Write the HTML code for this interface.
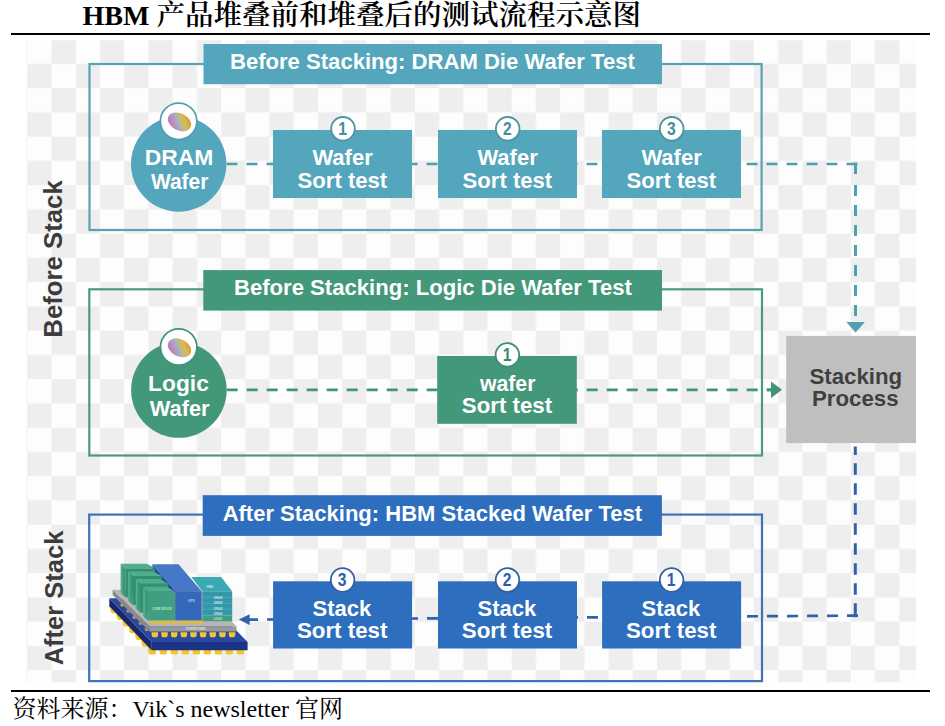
<!DOCTYPE html>
<html lang="zh">
<head>
<meta charset="utf-8">
<title>HBM 产品堆叠前和堆叠后的测试流程示意图</title>
<style>
  html, body { margin: 0; padding: 0; background: #ffffff; }
  body { width: 945px; height: 726px; position: relative; overflow: hidden; }
  .title {
    position: absolute; left: 82.5px; top: 0.2px; margin: 0;
    font-family: "Liberation Serif", "Noto Serif CJK SC", serif;
    font-weight: bold; font-size: 28px; line-height: 32px; height: 32px;
    color: #000; white-space: nowrap; letter-spacing: 0;
  }
  .title .cjk { font-size: 28.5px; font-weight: 600; }
  .rule { position: absolute; left: 11.2px; width: 919.1px; height: 2.3px; background: #000; }
  .rule.top { top: 33.2px; }
  .rule.bottom { top: 690.2px; }
  .source {
    position: absolute; left: 12.6px; top: 693.6px; margin: 0;
    font-family: "Liberation Serif", "Noto Serif CJK SC", serif;
    font-size: 24px; line-height: 30px; color: #000; white-space: nowrap;
  }
  svg.diagram { position: absolute; left: 0; top: 0; }
  svg.diagram text { font-family: "Liberation Sans", sans-serif; font-weight: bold; }
</style>
</head>
<body>
<h1 class="title">HBM <span class="cjk">产品堆叠前和堆叠后的测试流程示意图</span></h1>
<div class="rule top"></div>

<svg class="diagram" width="945" height="726" viewBox="0 0 945 726">
  <defs>
    <pattern id="checker" x="27.35" y="39.65" width="48.44" height="48.5" patternUnits="userSpaceOnUse">
      <rect x="0" y="0" width="48.44" height="48.5" fill="#fdfdfd"/>
      <rect x="24.22" y="0" width="24.22" height="24.25" fill="#eeeeee"/>
      <rect x="0" y="24.25" width="24.22" height="24.25" fill="#eeeeee"/>
    </pattern>
    <linearGradient id="wafer" gradientUnits="userSpaceOnUse" x1="-7.4" y1="8.5" x2="7.4" y2="-8.5">
      <stop offset="0" stop-color="#b878b2"/>
      <stop offset="0.2" stop-color="#c088bf"/>
      <stop offset="0.4" stop-color="#a7abcc"/>
      <stop offset="0.56" stop-color="#bcbf7e"/>
      <stop offset="0.74" stop-color="#dcb84e"/>
      <stop offset="1" stop-color="#d98f3c"/>
    </linearGradient>
  </defs>

  <!-- transparent-style checkerboard backdrop -->
  <rect x="26.4" y="40.3" width="889.6" height="642" fill="url(#checker)"/>

  <!-- ===== dashed connectors (drawn beneath the boxes) ===== -->
  <g fill="none" stroke-width="2.7">
    <!-- teal: DRAM row, then down to stacking process -->
    <line x1="857.5" y1="164" x2="226" y2="164" stroke="#4f9fad" stroke-dasharray="11 9"/>
    <line x1="855.5" y1="162.7" x2="855.5" y2="174" stroke="#4f9fb5" stroke-width="3"/>
    <line x1="855.5" y1="184.9" x2="855.5" y2="322" stroke="#4f9fb5" stroke-width="3" stroke-dasharray="11 9"/>
    <!-- green: logic row -->
    <line x1="226.7" y1="389.8" x2="771" y2="389.8" stroke="#3f957c" stroke-dasharray="11 9"/>
    <!-- blue: stacking process down and back along the bottom row -->
    <line x1="855.3" y1="446.6" x2="855.3" y2="617.2" stroke="#2f62ad" stroke-width="3" stroke-dasharray="8.3 8.3 11.5 8.5 11.5 8.5 11.5 8.5 11.5 8.5 11.5 8.5 11.5 8.5 11.5 8.5 14 0"/>
    <line x1="858" y1="615.6" x2="249" y2="619.6" stroke="#2f62ad" stroke-dasharray="11 9"/>
  </g>
  <path d="M846.4 321.9 L864.8 321.9 L855.6 332.4 Z" fill="#4f9fb5"/>
  <path d="M767 388.4 H771 V381.6 L782 389.8 L771 398 V391.2 H767 Z" fill="#3f957c"/>
  <path d="M238.8 619.6 L249.6 614.3 L249.6 624.9 Z" fill="#2f62ad"/>

  <!-- ===== section frames ===== -->
  <g fill="none" stroke-width="2.2">
    <rect x="89.5" y="64" width="672.1" height="166" stroke="#5aa1b2"/>
    <rect x="89.3" y="289.3" width="672.7" height="166.2" stroke="#4a9a80"/>
    <rect x="89.2" y="514.6" width="672.8" height="166.5" stroke="#3f72b8"/>
  </g>

  <!-- ===== section headers ===== -->
  <rect x="203.5" y="44" width="458.5" height="40.2" fill="#53a6bb"/>
  <text x="432.4" y="68.8" font-size="21.7" fill="#ffffff" text-anchor="middle" textLength="404.9" lengthAdjust="spacingAndGlyphs">Before Stacking: DRAM Die Wafer Test</text>
  <rect x="203.3" y="270.1" width="458.7" height="40.5" fill="#429879"/>
  <text x="432.9" y="295.4" font-size="21.7" fill="#ffffff" text-anchor="middle" textLength="397.9" lengthAdjust="spacingAndGlyphs">Before Stacking: Logic Die Wafer Test</text>
  <rect x="202.7" y="495.2" width="459.2" height="40.7" fill="#2e6ebe"/>
  <text x="432.35" y="521.2" font-size="21.7" fill="#ffffff" text-anchor="middle" textLength="419.4" lengthAdjust="spacingAndGlyphs">After Stacking: HBM Stacked Wafer Test</text>

  <!-- ===== vertical side labels ===== -->
  <text transform="translate(62.2 337.7) rotate(-90)" font-size="26.6" fill="#3c3c3c" textLength="157.4" lengthAdjust="spacingAndGlyphs">Before Stack</text>
  <text transform="translate(62.8 665.3) rotate(-90)" font-size="26.6" fill="#3c3c3c" textLength="134.7" lengthAdjust="spacingAndGlyphs">After Stack</text>

  <!-- ===== row 1 : DRAM wafer ===== -->
  <circle cx="178.7" cy="164" r="47.7" fill="#53a6bb"/>
  <circle cx="178.6" cy="121.3" r="18.2" fill="#ffffff" stroke="#4f9fb2" stroke-width="1.7"/>
  <ellipse cx="0" cy="0" rx="12.3" ry="8.6" transform="translate(179.5 121.9) rotate(27)" fill="url(#wafer)"/>
  <text x="179" y="165.1" font-size="21.7" fill="#ffffff" text-anchor="middle" textLength="68.6" lengthAdjust="spacingAndGlyphs">DRAM</text>
  <text x="179.7" y="189.2" font-size="21.7" fill="#ffffff" text-anchor="middle" textLength="57.5" lengthAdjust="spacingAndGlyphs">Wafer</text>

  <g>
    <rect x="273" y="130" width="139" height="68" fill="#53a6bb"/>
    <text x="342.6" y="165.2" font-size="21.7" fill="#ffffff" text-anchor="middle" textLength="60.4" lengthAdjust="spacingAndGlyphs">Wafer</text>
    <text x="342.40" y="187.8" font-size="21.7" fill="#ffffff" text-anchor="middle" textLength="89.6" lengthAdjust="spacingAndGlyphs">Sort test</text>
    <circle cx="343.0" cy="128.8" r="11.8" fill="#ffffff" stroke="#4f929f" stroke-width="1.8"/>
    <text x="342.6" y="134.9" font-size="18" fill="#438d9c" text-anchor="middle" textLength="8.7" lengthAdjust="spacingAndGlyphs">1</text>
  </g>
  <g>
    <rect x="438" y="130" width="139" height="68" fill="#53a6bb"/>
    <text x="507.6" y="165.2" font-size="21.7" fill="#ffffff" text-anchor="middle" textLength="60.4" lengthAdjust="spacingAndGlyphs">Wafer</text>
    <text x="507.40" y="187.8" font-size="21.7" fill="#ffffff" text-anchor="middle" textLength="89.6" lengthAdjust="spacingAndGlyphs">Sort test</text>
    <circle cx="507.7" cy="128.8" r="11.8" fill="#ffffff" stroke="#4f929f" stroke-width="1.8"/>
    <text x="507.3" y="134.9" font-size="18" fill="#438d9c" text-anchor="middle" textLength="8.7" lengthAdjust="spacingAndGlyphs">2</text>
  </g>
  <g>
    <rect x="602" y="130" width="139" height="68" fill="#53a6bb"/>
    <text x="671.6" y="165.2" font-size="21.7" fill="#ffffff" text-anchor="middle" textLength="60.4" lengthAdjust="spacingAndGlyphs">Wafer</text>
    <text x="671.40" y="187.8" font-size="21.7" fill="#ffffff" text-anchor="middle" textLength="89.6" lengthAdjust="spacingAndGlyphs">Sort test</text>
    <circle cx="671.7" cy="128.8" r="11.8" fill="#ffffff" stroke="#4f929f" stroke-width="1.8"/>
    <text x="671.3" y="134.9" font-size="18" fill="#438d9c" text-anchor="middle" textLength="8.7" lengthAdjust="spacingAndGlyphs">3</text>
  </g>

  <!-- ===== row 2 : Logic wafer ===== -->
  <circle cx="178.9" cy="390" r="47.8" fill="#429879"/>
  <circle cx="178.7" cy="347" r="18.2" fill="#ffffff" stroke="#3f957c" stroke-width="1.7"/>
  <ellipse cx="0" cy="0" rx="12.3" ry="8.6" transform="translate(179.5 347.8) rotate(27)" fill="url(#wafer)"/>
  <text x="178.5" y="391" font-size="21.7" fill="#ffffff" text-anchor="middle" textLength="60.8" lengthAdjust="spacingAndGlyphs">Logic</text>
  <text x="179.7" y="415.8" font-size="21.7" fill="#ffffff" text-anchor="middle" textLength="59.8" lengthAdjust="spacingAndGlyphs">Wafer</text>

  <g>
    <rect x="437.2" y="356" width="139.6" height="67.8" fill="#429879"/>
    <text x="507.7" y="391" font-size="21.7" fill="#ffffff" text-anchor="middle" textLength="55.6" lengthAdjust="spacingAndGlyphs">wafer</text>
    <text x="506.95" y="413.2" font-size="21.7" fill="#ffffff" text-anchor="middle" textLength="90.3" lengthAdjust="spacingAndGlyphs">Sort test</text>
    <circle cx="507.4" cy="354.9" r="11.8" fill="#ffffff" stroke="#3a8f76" stroke-width="1.8"/>
    <text x="507.0" y="361.0" font-size="18" fill="#368a70" text-anchor="middle" textLength="8.7" lengthAdjust="spacingAndGlyphs">1</text>
  </g>

  <!-- ===== stacking process ===== -->
  <rect x="786.2" y="335.9" width="129.8" height="107.2" fill="#bfbfbf"/>
  <text x="855.8" y="384.1" font-size="21.7" fill="#404040" text-anchor="middle" textLength="92.8" lengthAdjust="spacingAndGlyphs">Stacking</text>
  <text x="855.25" y="406.2" font-size="21.7" fill="#404040" text-anchor="middle" textLength="86.6" lengthAdjust="spacingAndGlyphs">Process</text>

  <!-- ===== row 3 : stacked HBM ===== -->
  <g>
    <rect x="273.1" y="581.3" width="139" height="67.2" fill="#2e6ebe"/>
    <text x="341.95" y="615.9" font-size="21.7" fill="#ffffff" text-anchor="middle" textLength="58.7" lengthAdjust="spacingAndGlyphs">Stack</text>
    <text x="342.15" y="638.3" font-size="21.7" fill="#ffffff" text-anchor="middle" textLength="90.5" lengthAdjust="spacingAndGlyphs">Sort test</text>
    <circle cx="342.6" cy="580.0" r="11.8" fill="#ffffff" stroke="#365fa3" stroke-width="1.8"/>
    <text x="342.2" y="586.1" font-size="18" fill="#2a5fb0" text-anchor="middle" textLength="8.7" lengthAdjust="spacingAndGlyphs">3</text>
  </g>
  <g>
    <rect x="438" y="581.3" width="139" height="67.2" fill="#2e6ebe"/>
    <text x="506.85" y="615.9" font-size="21.7" fill="#ffffff" text-anchor="middle" textLength="58.7" lengthAdjust="spacingAndGlyphs">Stack</text>
    <text x="507.05" y="638.3" font-size="21.7" fill="#ffffff" text-anchor="middle" textLength="90.5" lengthAdjust="spacingAndGlyphs">Sort test</text>
    <circle cx="507.5" cy="580.0" r="11.8" fill="#ffffff" stroke="#365fa3" stroke-width="1.8"/>
    <text x="507.1" y="586.1" font-size="18" fill="#2a5fb0" text-anchor="middle" textLength="8.7" lengthAdjust="spacingAndGlyphs">2</text>
  </g>
  <g>
    <rect x="602.1" y="581.3" width="139" height="67.2" fill="#2e6ebe"/>
    <text x="670.95" y="615.9" font-size="21.7" fill="#ffffff" text-anchor="middle" textLength="58.7" lengthAdjust="spacingAndGlyphs">Stack</text>
    <text x="671.15" y="638.3" font-size="21.7" fill="#ffffff" text-anchor="middle" textLength="90.5" lengthAdjust="spacingAndGlyphs">Sort test</text>
    <circle cx="671.6" cy="580.0" r="11.8" fill="#ffffff" stroke="#365fa3" stroke-width="1.8"/>
    <text x="671.2" y="586.1" font-size="18" fill="#2a5fb0" text-anchor="middle" textLength="8.7" lengthAdjust="spacingAndGlyphs">1</text>
  </g>
  <!-- HBM package illustration -->
  <g id="chip">
    <polygon points="109.8,605.8 114.9,605.8 116.6,611.9 115.2,613.2 111.9,613.2 110.5,610.9" fill="#f2c62c"/>
    <polygon points="116.1,612.5 121.2,612.5 122.9,618.6 121.5,619.9 118.1,619.9 116.8,617.6" fill="#f2c62c"/>
    <polygon points="122.3,619.2 127.4,619.2 129.1,625.3 127.8,626.6 124.4,626.6 123.0,624.2" fill="#f2c62c"/>
    <polygon points="128.6,625.9 133.7,625.9 135.4,632.0 134.0,633.3 130.6,633.3 129.3,630.9" fill="#f2c62c"/>
    <polygon points="134.9,632.5 140.0,632.5 141.7,638.6 140.3,640.0 136.9,640.0 135.6,637.6" fill="#f2c62c"/>
    <polygon points="141.1,639.2 146.2,639.2 147.9,645.3 146.6,646.7 143.2,646.7 141.8,644.3" fill="#f2c62c"/>
    <polygon points="147.4,645.9 152.5,645.9 154.2,652.0 152.8,653.4 149.4,653.4 148.1,651.0" fill="#f2c62c"/>
    <polygon points="148.4,649.1 156.2,649.1 155.9,653.2 154.9,654.6 149.8,654.6 148.8,653.2" fill="#f2c62c"/>
    <polygon points="159.4,649.1 167.2,649.1 166.9,653.2 165.9,654.6 160.8,654.6 159.8,653.2" fill="#f2c62c"/>
    <polygon points="170.4,649.1 178.2,649.1 177.9,653.2 176.9,654.6 171.8,654.6 170.8,653.2" fill="#f2c62c"/>
    <polygon points="181.4,649.1 189.2,649.1 188.9,653.2 187.9,654.6 182.8,654.6 181.8,653.2" fill="#f2c62c"/>
    <polygon points="192.4,649.1 200.2,649.1 199.9,653.2 198.9,654.6 193.8,654.6 192.8,653.2" fill="#f2c62c"/>
    <polygon points="203.4,649.1 211.2,649.1 210.9,653.2 209.9,654.6 204.8,654.6 203.8,653.2" fill="#f2c62c"/>
    <polygon points="214.5,649.1 222.2,649.1 221.9,653.2 220.9,654.6 215.8,654.6 214.8,653.2" fill="#f2c62c"/>
    <polygon points="225.5,649.1 233.2,649.1 232.9,653.2 231.9,654.6 226.8,654.6 225.8,653.2" fill="#f2c62c"/>
    <polygon points="236.5,649.1 244.3,649.1 243.9,653.2 242.9,654.6 237.8,654.6 236.8,653.2" fill="#f2c62c"/>
    <polygon points="109.3,598.2 151.6,642.0 151.6,650.2 109.3,606.3" fill="#18276c"/>
    <polygon points="151.6,642.0 247.6,642.0 247.6,650.2 151.6,650.2" fill="#1c3384"/>
    <polygon points="109.3,598.2 205.0,598.2 247.6,642.0 151.6,642.0" fill="#2a48a2"/>
    <polygon points="120.0,604.1 122.7,604.1 123.7,606.5 121.0,606.5" fill="#c9a93a"/>
    <polygon points="126.1,610.2 128.8,610.2 129.8,612.6 127.1,612.6" fill="#c9a93a"/>
    <polygon points="132.2,616.3 134.9,616.3 135.9,618.7 133.2,618.7" fill="#c9a93a"/>
    <polygon points="138.3,622.4 141.0,622.4 142.0,624.8 139.3,624.8" fill="#c9a93a"/>
    <polygon points="144.4,628.5 147.1,628.5 148.1,630.9 145.4,630.9" fill="#c9a93a"/>
    <polygon points="151.5,632.2 158.2,632.2 157.9,635.9 156.9,637.3 152.8,637.3 151.8,635.9" fill="#f2c62c"/>
    <polygon points="161.1,632.2 167.9,632.2 167.6,635.9 166.5,637.3 162.5,637.3 161.5,635.9" fill="#f2c62c"/>
    <polygon points="170.8,632.2 177.5,632.2 177.2,635.9 176.2,637.3 172.1,637.3 171.1,635.9" fill="#f2c62c"/>
    <polygon points="180.4,632.2 187.2,632.2 186.9,635.9 185.8,637.3 181.8,637.3 180.8,635.9" fill="#f2c62c"/>
    <polygon points="190.1,632.2 196.8,632.2 196.5,635.9 195.5,637.3 191.4,637.3 190.4,635.9" fill="#f2c62c"/>
    <polygon points="199.7,632.2 206.5,632.2 206.2,635.9 205.1,637.3 201.1,637.3 200.1,635.9" fill="#f2c62c"/>
    <polygon points="209.4,632.2 216.1,632.2 215.8,635.9 214.8,637.3 210.7,637.3 209.7,635.9" fill="#f2c62c"/>
    <polygon points="219.0,632.2 225.8,632.2 225.5,635.9 224.4,637.3 220.4,637.3 219.4,635.9" fill="#f2c62c"/>
    <polygon points="228.7,632.2 235.4,632.2 235.1,635.9 234.1,637.3 230.0,637.3 229.0,635.9" fill="#f2c62c"/>
    <polygon points="112.7,589.7 149.4,626.3 149.4,631.5 112.7,595.0" fill="#8a8a8a"/>
    <polygon points="149.4,626.3 236.5,626.3 236.5,631.5 149.4,631.5" fill="#999999"/>
    <polygon points="112.7,589.7 199.9,589.7 236.5,626.3 149.4,626.3" fill="#b6b6b6"/>
    <polygon points="150.1,621.0 153.8,621.0 153.7,624.2 150.5,624.2" fill="#e6bd2c"/>
    <polygon points="154.5,621.0 158.2,621.0 158.1,624.2 154.9,624.2" fill="#e6bd2c"/>
    <polygon points="158.9,621.0 162.6,621.0 162.5,624.2 159.3,624.2" fill="#e6bd2c"/>
    <polygon points="163.3,621.0 167.0,621.0 166.9,624.2 163.7,624.2" fill="#e6bd2c"/>
    <polygon points="167.7,621.0 171.4,621.0 171.3,624.2 168.1,624.2" fill="#e6bd2c"/>
    <polygon points="172.1,621.0 175.9,621.0 175.7,624.2 172.5,624.2" fill="#e6bd2c"/>
    <polygon points="177.5,621.0 181.3,621.0 181.1,624.2 177.9,624.2" fill="#e6bd2c"/>
    <polygon points="181.9,621.0 185.7,621.0 185.5,624.2 182.3,624.2" fill="#e6bd2c"/>
    <polygon points="186.3,621.0 190.1,621.0 189.9,624.2 186.7,624.2" fill="#e6bd2c"/>
    <polygon points="190.8,621.0 194.5,621.0 194.3,624.2 191.1,624.2" fill="#e6bd2c"/>
    <polygon points="195.2,621.0 198.9,621.0 198.7,624.2 195.5,624.2" fill="#e6bd2c"/>
    <polygon points="199.6,621.0 203.3,621.0 203.1,624.2 199.9,624.2" fill="#e6bd2c"/>
    <polygon points="152.4,564.3 175.5,591.3 175.5,620.4 152.4,593.4" fill="#1f4a94"/>
    <polygon points="152.4,564.3 178.5,564.3 201.6,591.3 175.5,591.3" fill="#4678c8"/>
    <polygon points="175.5,591.3 201.6,591.3 201.6,620.4 175.5,620.4" fill="#3568bb"/>
    <polygon points="120.8,563.7 125.2,568.3 125.2,597.3 120.8,592.7" fill="#3b987a"/>
    <polygon points="120.8,563.7 122.3,565.4 122.3,594.4 120.8,592.7" fill="#55b192"/>
    <polygon points="120.8,563.7 146.9,563.7 155.2,568.3 125.2,568.3" fill="#50ad8e"/>
    <polygon points="125.2,568.3 155.2,568.3 155.2,597.3 125.2,597.3" fill="#338f72"/>
    <polygon points="128.2,571.4 132.7,576.0 132.7,605.0 128.2,600.4" fill="#3b987a"/>
    <polygon points="128.2,571.4 129.8,573.1 129.8,602.1 128.2,600.4" fill="#55b192"/>
    <polygon points="128.2,571.4 153.5,571.4 161.8,576.0 132.7,576.0" fill="#50ad8e"/>
    <polygon points="132.7,576.0 161.8,576.0 161.8,605.0 132.7,605.0" fill="#338f72"/>
    <polygon points="135.8,579.1 140.2,583.7 140.2,612.7 135.8,608.1" fill="#3b987a"/>
    <polygon points="135.8,579.1 137.3,580.8 137.3,609.8 135.8,608.1" fill="#55b192"/>
    <polygon points="135.8,579.1 160.1,579.1 168.4,583.7 140.2,583.7" fill="#50ad8e"/>
    <polygon points="140.2,583.7 168.4,583.7 168.4,612.7 140.2,612.7" fill="#338f72"/>
    <polygon points="143.2,586.8 147.7,591.4 147.7,620.4 143.2,615.8" fill="#3b987a"/>
    <polygon points="143.2,586.8 144.8,588.5 144.8,617.5 143.2,615.8" fill="#55b192"/>
    <polygon points="143.2,586.8 166.7,586.8 175.0,591.4 147.7,591.4" fill="#50ad8e"/>
    <polygon points="147.7,591.4 175.0,591.4 175.0,620.4 147.7,620.4" fill="#3f9f80"/>
    <polygon points="191.4,577.0 221.2,577.0 232.2,591.4 202.4,591.4" fill="#3aa9b3"/>
    <polygon points="202.4,591.4 232.2,591.4 232.2,615.4 202.4,615.4" fill="#3397ab"/>
    <polygon points="202.4,615.4 232.2,615.4 232.2,621.2 202.4,621.2" fill="#3fa07f"/>
    <line x1="202.4" y1="597.3" x2="232.2" y2="597.3" stroke="#5fb9c6" stroke-width="0.5"/>
    <line x1="202.4" y1="603.3" x2="232.2" y2="603.3" stroke="#5fb9c6" stroke-width="0.5"/>
    <line x1="202.4" y1="609.2" x2="232.2" y2="609.2" stroke="#5fb9c6" stroke-width="0.5"/>
    <line x1="202.4" y1="615.1" x2="232.2" y2="615.1" stroke="#5fb9c6" stroke-width="0.5"/>
    <text x="162.1" y="610.2" font-size="2.9" fill="#ffffff" fill-opacity="0.70" text-anchor="middle">CORE DEVICE</text>
    <text x="191.4" y="601.9" font-size="3.2" fill="#ffffff" fill-opacity="0.70" text-anchor="middle">GPU</text>
    <text x="209.7" y="587.5" font-size="3.0" fill="#ffffff" fill-opacity="0.70" text-anchor="middle">HBM</text>
    <text x="218.0" y="598.5" font-size="2.9" fill="#ffffff" fill-opacity="0.70" text-anchor="middle">DRAM</text>
    <text x="218.0" y="604.1" font-size="2.9" fill="#ffffff" fill-opacity="0.70" text-anchor="middle">DRAM</text>
    <text x="218.0" y="609.7" font-size="2.9" fill="#ffffff" fill-opacity="0.70" text-anchor="middle">DRAM</text>
    <text x="218.0" y="614.9" font-size="2.9" fill="#ffffff" fill-opacity="0.70" text-anchor="middle">DRAM</text>
    <text x="218.0" y="620.4" font-size="2.9" fill="#ffffff" fill-opacity="0.70" text-anchor="middle">LOGIC</text>
    <text x="195.8" y="630.0" font-size="3.0" fill="#ffffff" fill-opacity="0.70" text-anchor="middle">INTERPOSER</text>
  </g>
</svg>

<div class="rule bottom"></div>
<p class="source">资料来源：Vik`s newsletter 官网</p>
</body>
</html>
